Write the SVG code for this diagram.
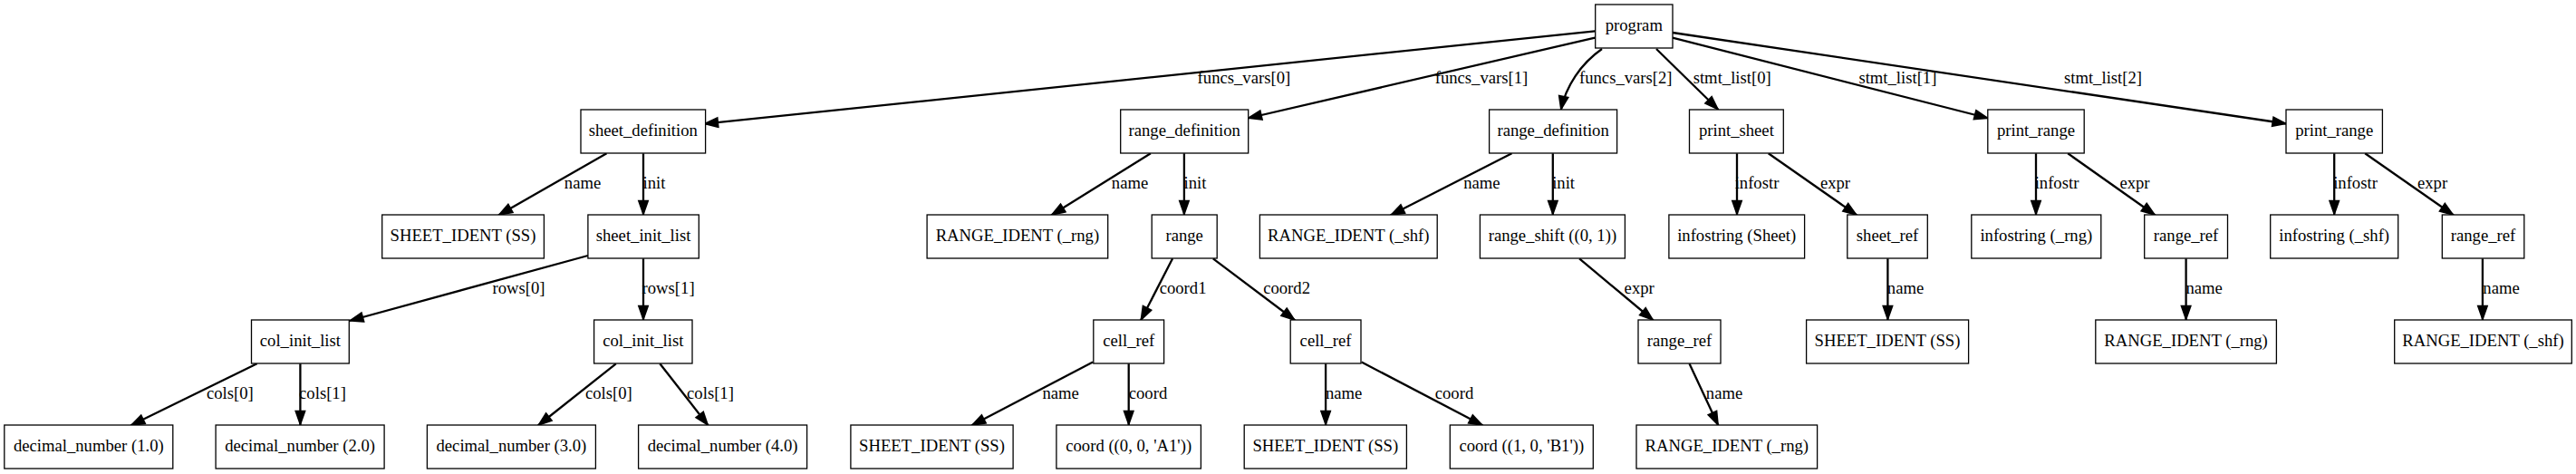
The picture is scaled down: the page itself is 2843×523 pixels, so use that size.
<svg xmlns="http://www.w3.org/2000/svg" width="2843" height="523" viewBox="0 0 2843 523">
<style>
.n rect{fill:#fff;stroke:#000;stroke-width:1.3}
text{font-family:"Liberation Serif","Times New Roman",serif;font-size:18.67px;fill:#000;text-anchor:middle}
.e path{fill:none;stroke:#000;stroke-width:2.3;marker-end:url(#ah)}
</style>
<defs>
<marker id="ah" markerUnits="userSpaceOnUse" markerWidth="20" markerHeight="12" refX="0" refY="0" viewBox="-16 -6 20 12" orient="auto" overflow="visible">
<path d="M-15,-4.67 L-1.8,0 L-15,4.67 Z" fill="#000" stroke="#000" stroke-width="2.3"/>
</marker>
</defs>
<rect width="2843" height="523" fill="#fff"/>
<g id="edges" class="e">
<path d="M1760.3,34.3 L777,136.7"/><text x="1372.9" y="92">funcs_vars[0]</text>
<path d="M1760.3,41.7 L1377,130.5"/><text x="1635" y="92">funcs_vars[1]</text>
<path d="M1768,54 C1745,70 1728,95 1722.7,121.5"/><text x="1794.3" y="92">funcs_vars[2]</text>
<path d="M1828,54 L1896.5,121"/><text x="1911.7" y="92">stmt_list[0]</text>
<path d="M1845.9,41.7 L2194.5,130.5"/><text x="2094.4" y="92">stmt_list[1]</text>
<path d="M1845.9,36 L2523.5,136.5"/><text x="2321" y="92">stmt_list[2]</text>

<path d="M669.5,169.3 L550.1,237.5"/><text x="643" y="208">name</text>
<path d="M710,169.3 L710,237"/><text x="722" y="208">init</text>
<path d="M1269.9,169.3 L1160.2,237.5"/><text x="1247" y="208">name</text>
<path d="M1306.9,169.3 L1306.9,237"/><text x="1319" y="208">init</text>
<path d="M1668.5,169.3 L1534.6,237.5"/><text x="1635.4" y="208">name</text>
<path d="M1713.8,169.3 L1713.8,237"/><text x="1725.6" y="208">init</text>
<path d="M1917,169.3 L1917,237"/><text x="1939" y="208">infostr</text>
<path d="M1951.7,169.3 L2049.4,237.5"/><text x="2025.5" y="208">expr</text>
<path d="M2247,169.3 L2247,237"/><text x="2270" y="208">infostr</text>
<path d="M2282.2,169.3 L2378.7,237.5"/><text x="2356" y="208">expr</text>
<path d="M2576.2,169.3 L2576.2,237"/><text x="2599.5" y="208">infostr</text>
<path d="M2610.2,169.3 L2708,237.5"/><text x="2684.6" y="208">expr</text>

<path d="M648.9,282 L385.5,354"/><text x="572.5" y="324">rows[0]</text>
<path d="M710,285.3 L710,353"/><text x="737.6" y="324">rows[1]</text>
<path d="M1294.1,285.3 L1259,353.5"/><text x="1305.6" y="324">coord1</text>
<path d="M1338.8,285.3 L1429.3,353.5"/><text x="1420.1" y="324">coord2</text>
<path d="M1743.1,285.3 L1824.7,353.5"/><text x="1809.2" y="324">expr</text>
<path d="M2083.4,285.3 L2083.4,353"/><text x="2103" y="324">name</text>
<path d="M2412.6,285.3 L2412.6,353"/><text x="2432.6" y="324">name</text>
<path d="M2739.9,285.3 L2739.9,353"/><text x="2760.5" y="324">name</text>

<path d="M283.6,401.3 L144.2,469.5"/><text x="253.9" y="440">cols[0]</text>
<path d="M331.4,401.3 L331.4,469"/><text x="356" y="440">cols[1]</text>
<path d="M679.8,401.3 L593.8,469.5"/><text x="671.9" y="440">cols[0]</text>
<path d="M728.3,401.3 L781.6,469.5"/><text x="784" y="440">cols[1]</text>
<path d="M1206.1,399.5 L1072.2,469.5"/><text x="1170.7" y="440">name</text>
<path d="M1245.7,401.3 L1245.7,469"/><text x="1267" y="440">coord</text>
<path d="M1463.1,401.3 L1463.1,469"/><text x="1483.2" y="440">name</text>
<path d="M1502.7,399.5 L1636.6,469.5"/><text x="1605" y="440">coord</text>
<path d="M1864.5,401.3 L1896.4,469.5"/><text x="1903" y="440">name</text>
</g>

<g id="program" class="n"><rect x="1760.7" y="5" width="85.3" height="48"/><text x="1803.3" y="34">program</text></g>

<g id="sheet_definition" class="n"><rect x="641" y="121" width="137.6" height="48"/><text x="709.8" y="150">sheet_definition</text></g>
<g id="range_definition_1" class="n"><rect x="1236.7" y="121" width="141" height="48"/><text x="1307.2" y="150">range_definition</text></g>
<g id="range_definition_2" class="n"><rect x="1643.6" y="121" width="141" height="48"/><text x="1714.1" y="150">range_definition</text></g>
<g id="print_sheet" class="n"><rect x="1864.5" y="121" width="103.8" height="48"/><text x="1916.4" y="150">print_sheet</text></g>
<g id="print_range_1" class="n"><rect x="2193.8" y="121" width="106.4" height="48"/><text x="2247" y="150">print_range</text></g>
<g id="print_range_2" class="n"><rect x="2523" y="121" width="106.4" height="48"/><text x="2576.2" y="150">print_range</text></g>

<g id="sheet_ident_1" class="n"><rect x="421.7" y="237" width="178.7" height="48"/><text x="511" y="266">SHEET_IDENT (SS)</text></g>
<g id="sheet_init_list" class="n"><rect x="648.9" y="237" width="122.4" height="48"/><text x="710.1" y="266">sheet_init_list</text></g>
<g id="range_ident_rng_1" class="n"><rect x="1023.1" y="237" width="199.6" height="48"/><text x="1122.9" y="266">RANGE_IDENT (_rng)</text></g>
<g id="range" class="n"><rect x="1271.2" y="237" width="72" height="48"/><text x="1307.2" y="266">range</text></g>
<g id="range_ident_shf_1" class="n"><rect x="1390.4" y="237" width="195.8" height="48"/><text x="1488.3" y="266">RANGE_IDENT (_shf)</text></g>
<g id="range_shift" class="n"><rect x="1633.4" y="237" width="160" height="48"/><text x="1713.4" y="266">range_shift ((0, 1))</text></g>
<g id="infostring_sheet" class="n"><rect x="1841.9" y="237" width="149.7" height="48"/><text x="1916.7" y="266">infostring (Sheet)</text></g>
<g id="sheet_ref" class="n"><rect x="2038.8" y="237" width="88.5" height="48"/><text x="2083" y="266">sheet_ref</text></g>
<g id="infostring_rng" class="n"><rect x="2175.8" y="237" width="143" height="48"/><text x="2247.3" y="266">infostring (_rng)</text></g>
<g id="range_ref_2" class="n"><rect x="2366.7" y="237" width="91.8" height="48"/><text x="2412.6" y="266">range_ref</text></g>
<g id="infostring_shf" class="n"><rect x="2505.7" y="237" width="141" height="48"/><text x="2576.2" y="266">infostring (_shf)</text></g>
<g id="range_ref_3" class="n"><rect x="2695.3" y="237" width="90.5" height="48"/><text x="2740.5" y="266">range_ref</text></g>

<g id="col_init_list_1" class="n"><rect x="277.5" y="353" width="107.8" height="48"/><text x="331.4" y="382">col_init_list</text></g>
<g id="col_init_list_2" class="n"><rect x="655.6" y="353" width="108.4" height="48"/><text x="709.8" y="382">col_init_list</text></g>
<g id="cell_ref_1" class="n"><rect x="1206.8" y="353" width="77.8" height="48"/><text x="1245.7" y="382">cell_ref</text></g>
<g id="cell_ref_2" class="n"><rect x="1424.2" y="353" width="77.8" height="48"/><text x="1463.1" y="382">cell_ref</text></g>
<g id="range_ref_1" class="n"><rect x="1808" y="353" width="91" height="48"/><text x="1853.5" y="382">range_ref</text></g>
<g id="sheet_ident_4" class="n"><rect x="1993.6" y="353" width="179" height="48"/><text x="2083" y="382">SHEET_IDENT (SS)</text></g>
<g id="range_ident_rng_3" class="n"><rect x="2312.8" y="353" width="199.6" height="48"/><text x="2412.6" y="382">RANGE_IDENT (_rng)</text></g>
<g id="range_ident_shf_2" class="n"><rect x="2642.7" y="353" width="195.6" height="48"/><text x="2740.5" y="382">RANGE_IDENT (_shf)</text></g>

<g id="decimal_1" class="n"><rect x="4.8" y="469" width="186" height="48"/><text x="97.8" y="498">decimal_number (1.0)</text></g>
<g id="decimal_2" class="n"><rect x="238.1" y="469" width="186" height="48"/><text x="331.1" y="498">decimal_number (2.0)</text></g>
<g id="decimal_3" class="n"><rect x="471.4" y="469" width="186" height="48"/><text x="564.4" y="498">decimal_number (3.0)</text></g>
<g id="decimal_4" class="n"><rect x="704.6" y="469" width="186" height="48"/><text x="797.6" y="498">decimal_number (4.0)</text></g>
<g id="sheet_ident_2" class="n"><rect x="938.9" y="469" width="179.2" height="48"/><text x="1028.5" y="498">SHEET_IDENT (SS)</text></g>
<g id="coord_a1" class="n"><rect x="1165.9" y="469" width="159.5" height="48"/><text x="1245.7" y="498">coord ((0, 0, 'A1'))</text></g>
<g id="sheet_ident_3" class="n"><rect x="1373.2" y="469" width="179.2" height="48"/><text x="1462.8" y="498">SHEET_IDENT (SS)</text></g>
<g id="coord_b1" class="n"><rect x="1600.3" y="469" width="158" height="48"/><text x="1679.3" y="498">coord ((1, 0, 'B1'))</text></g>
<g id="range_ident_rng_2" class="n"><rect x="1806" y="469" width="199.6" height="48"/><text x="1905.8" y="498">RANGE_IDENT (_rng)</text></g>
</svg>
